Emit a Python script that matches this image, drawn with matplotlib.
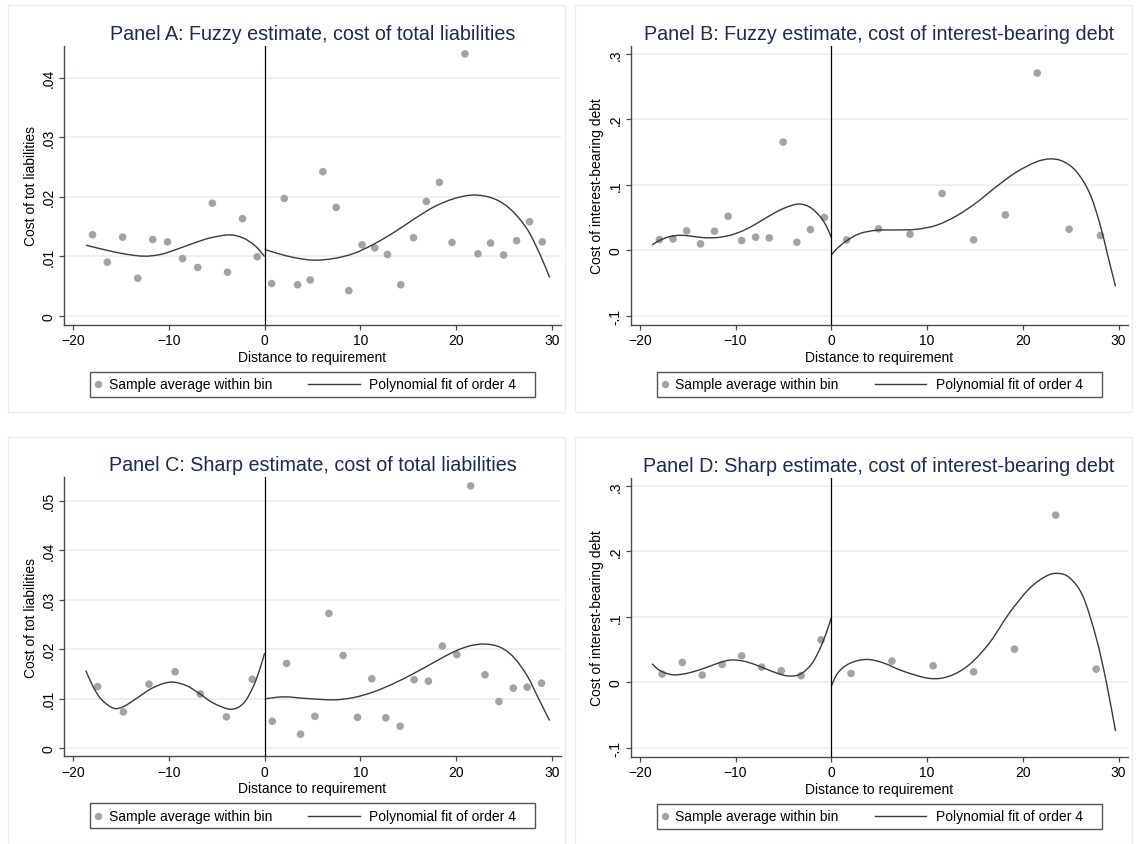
#!/usr/bin/env python3
"""Four RD panels (fuzzy / sharp, total liabilities / interest-bearing debt):
binned averages plus order-4 polynomial fits on each side of the cutoff.

Output: out.png
"""
import numpy as np
import matplotlib
matplotlib.use("Agg")
import matplotlib.pyplot as plt
from matplotlib.path import Path
from matplotlib.patches import PathPatch, Rectangle
from matplotlib.lines import Line2D
from matplotlib.offsetbox import AnchoredOffsetbox, DrawingArea, HPacker, TextArea

plt.rcParams["font.family"] = ["Liberation Sans", "DejaVu Sans"]

DOT, LINE, NAVY, GRID, AXC = "#a3a3a3", "#3a3a3a", "#1e2b4d", "#e9f0f1", "#4a4a4a"

XTICKS = [-20, -10, 0, 10, 20, 30]

# --- Panel A: fuzzy, cost of total liabilities ---
a_bin_x = [-17.97, -16.43, -14.83, -13.25, -11.68, -10.14, -8.57, -6.99, -5.45,
           -3.88, -2.31, -0.77, 0.73, 2.05, 3.44, 4.76, 6.08, 7.47, 8.79, 10.18,
           11.5, 12.83, 14.22, 15.54, 16.89, 18.25, 19.57, 20.92, 22.28, 23.6,
           24.96, 26.31, 27.67, 28.99]
a_bin_y = [.0136, .0090, .0132, .0063, .0128, .0124, .0096, .0081, .0189, .0073,
           .0163, .0099, .0054, .0197, .0052, .0060, .0242, .0182, .0042, .0119,
           .0114, .0103, .0052, .0131, .0192, .0224, .0123, .0440, .0104, .0122,
           .0102, .0126, .0158, .0124]
a_fitL_x = [-18.64, -16.66, -14.67, -12.65, -10.9, -9.16, -7.42, -5.68, -3.66, -2.2, -0.98, 0]
a_fitL_y = [.01184, .01106, .01039, .0100, .01028, .01117, .01218, .01307, .01358,
            .01302, .01173, .00994]
a_fitR_x = [0, 1.29, 3.03, 5.12, 7.21, 9.3, 11.39, 13.48, 15.57, 17.67, 19.76,
            21.85, 23.94, 25.68, 27.42, 28.82, 29.76]
a_fitR_y = [.01112, .0105, .00978, .00933, .00961, .01045, .01201, .01397, .0162,
            .01827, .01966, .02028, .01966, .01788, .01453, .01006, .00642]
a_yticks = [0, .01, .02, .03, .04]
a_ylabels = ["0", ".01", ".02", ".03", ".04"]

# --- Panel B: fuzzy, cost of interest-bearing debt ---
b_bin_x = [-17.95, -16.53, -15.11, -13.66, -12.2, -10.78, -9.36, -7.9, -6.48,
           -5.03, -3.6, -2.18, -0.73, 1.61, 4.93, 8.22, 11.57, 14.86, 18.18,
           21.5, 24.83, 28.11]
b_bin_y = [.0163, .0173, .0296, .0097, .0291, .052, .0148, .0199, .0189, .1653,
           .0122, .0316, .050, .0158, .0327, .0245, .0867, .0158, .0541, .2709,
           .0321, .0224]
b_fitL_x = [-18.72, -17.92, -16.88, -15.83, -14.79, -13.4, -12.0, -10.6, -9.22,
            -7.83, -6.44, -5.05, -3.48, -2.26, -1.22, -0.52, 0]
b_fitL_y = [.0081, .0152, .0208, .0228, .0218, .0193, .0193, .0228, .0299, .0406,
            .0528, .0635, .0706, .066, .0523, .037, .0193]
b_fitR_x = [0, 0.52, 1.57, 2.96, 4.7, 6.79, 8.88, 10.96, 13.05, 15.14, 17.22,
            19.31, 21.4, 22.86, 24.18, 25.57, 26.96, 28.01, 28.88, 29.68]
b_fitR_y = [-.0076, .0015, .0142, .0254, .0305, .031, .032, .0381, .0523, .0726,
            .097, .1193, .135, .1396, .136, .1208, .0878, .0421, -.0086, -.0553]
b_yticks = [-.1, 0, .1, .2, .3]
b_ylabels = ["-.1", "0", ".1", ".2", ".3"]

# --- Panel C: sharp, cost of total liabilities ---
c_bin_x = [-17.44, -14.75, -12.08, -9.35, -6.72, -3.99, -1.3, 0.8, 2.29, 3.75,
           5.25, 6.71, 8.2, 9.7, 11.19, 12.65, 14.15, 15.61, 17.1, 18.56, 20.06,
           21.52, 23.01, 24.47, 25.97, 27.42, 28.92]
c_bin_y = [.0124, .0073, .0129, .0154, .0109, .0063, .0139, .0054, .0171, .0028,
           .0064, .0272, .0187, .0062, .0140, .0061, .0044, .0138, .0135, .0206,
           .0189, .0530, .0148, .0094, .0121, .0123, .0131]
c_fitL_x = [-18.68, -17.87, -17.0, -15.78, -14.74, -13.34, -11.95, -10.56, -9.51,
            -8.12, -6.72, -5.33, -3.52, -2.2, -1.15, -0.45, 0]
c_fitL_y = [.01568, .01223, .00973, .00804, .00838, .01007, .01189, .01304, .01331,
            .01257, .01088, .00905, .00784, .00905, .01257, .01628, .01919]
c_fitR_x = [0, 1.99, 4.43, 7.21, 9.3, 11.39, 13.48, 15.57, 17.67, 19.76, 21.5,
            23.07, 24.63, 26.03, 27.42, 28.64, 29.76]
c_fitR_y = [.00993, .01034, .0100, .00973, .0102, .01135, .01304, .01507, .0173,
            .01946, .02068, .02101, .02034, .01831, .01459, .00986, .00554]
c_yticks = [0, .01, .02, .03, .04, .05]
c_ylabels = ["0", ".01", ".02", ".03", ".04", ".05"]

# --- Panel D: sharp, cost of interest-bearing debt ---
d_bin_x = [-17.68, -15.56, -13.48, -11.4, -9.36, -7.28, -5.23, -3.15, -1.07,
           2.06, 6.33, 10.63, 14.86, 19.13, 23.43, 27.66]
d_bin_y = [.0127, .0305, .0112, .0274, .0406, .0234, .0178, .0102, .065,
           .0137, .0325, .0254, .0162, .0508, .2553, .0203]
d_fitL_x = [-18.72, -17.92, -16.6, -15.14, -13.4, -12.0, -10.6, -9.22, -7.83,
            -6.44, -4.7, -3.3, -2.09, -1.22, -0.52, 0]
d_fitL_y = [.0285, .0183, .0117, .0137, .0209, .0285, .0341, .0326, .0265, .0183,
            .0102, .0122, .0275, .0504, .0758, .0987]
d_fitR_x = [0, 0.7, 1.91, 3.65, 5.39, 7.48, 10.26, 12.35, 14.44, 16.53, 18.62,
            20.7, 22.44, 23.66, 24.88, 26.27, 27.66, 28.7, 29.68]
d_fitR_y = [-.0056, .0148, .029, .0351, .030, .0173, .0061, .0097, .0275, .0606,
            .1064, .1435, .1623, .1664, .1598, .1318, .0682, .002, -.0743]
d_yticks = [-.1, 0, .1, .2, .3]
d_ylabels = ["-.1", "0", ".1", ".2", ".3"]

TITLES = ["Panel A: Fuzzy estimate, cost of total liabilities",
          "Panel B: Fuzzy estimate, cost of interest-bearing debt",
          "Panel C: Sharp estimate, cost of total liabilities",
          "Panel D: Sharp estimate, cost of interest-bearing debt"]
YLABELS = ["Cost of tot liabilities", "Cost of interest-bearing debt",
           "Cost of tot liabilities", "Cost of interest-bearing debt"]
LEGEND = ["Sample average within bin", "Polynomial fit of order 4"]
FS = 10


def smooth_path(x, y):
    """Bezier path through the read fit points (Catmull-Rom control points)."""
    px = np.r_[x[0], x, x[-1]]
    py = np.r_[y[0], y, y[-1]]
    verts, codes = [(x[0], y[0])], [Path.MOVETO]
    for i in range(1, len(px) - 2):
        c1 = (px[i] + (px[i + 1] - px[i - 1]) / 6, py[i] + (py[i + 1] - py[i - 1]) / 6)
        c2 = (px[i + 1] - (px[i + 2] - px[i]) / 6, py[i + 1] - (py[i + 2] - py[i]) / 6)
        verts += [c1, c2, (px[i + 1], py[i + 1])]
        codes += [Path.CURVE4] * 3
    return Path(verts, codes)


def stata_legend(ax):
    """Boxed one-row legend below the axes, Stata style (short marker key, long line key)."""
    h = 13
    mk = DrawingArea(7, h)
    mk.add_artist(Line2D([3.5], [h / 2], ls="none", marker="o", ms=5.3, color=DOT, mec="none"))
    ln = DrawingArea(37, h)
    ln.add_artist(Line2D([0, 37], [h / 2, h / 2], color=LINE, lw=1.0))
    txt = dict(fontsize=FS, color="black")
    row = HPacker(children=[mk, DrawingArea(4, h), TextArea(LEGEND[0], textprops=txt),
                            DrawingArea(26, h), ln, DrawingArea(7, h),
                            TextArea(LEGEND[1], textprops=txt), DrawingArea(11, h)],
                  sep=0, pad=0, align="center")
    box = AnchoredOffsetbox(loc="center", child=row, pad=0.25, borderpad=0,
                            frameon=True, bbox_to_anchor=(0.5, -0.214),
                            bbox_transform=ax.transAxes, prop=dict(size=FS))
    box.patch.set_edgecolor("#555555")
    box.patch.set_linewidth(1.0)
    ax.add_artist(box)


def main():
    fig = plt.figure(figsize=(11.37, 8.45), dpi=100)

    # faint outer boxes of each graph region
    for (x0, y0) in [(8, 6), (575, 6), (8, 438), (575, 438)]:
        fig.patches.append(Rectangle((x0 / 1137, 1 - (y0 + 407) / 845), 557 / 1137,
                                     407 / 845, transform=fig.transFigure,
                                     fill=False, edgecolor="#ececec", lw=1))

    rects = [[0.0563, 0.6146, 0.4371, 0.3302], [0.5547, 0.6146, 0.4371, 0.3302],
             [0.0563, 0.1038, 0.4371, 0.3302], [0.5547, 0.1033, 0.4371, 0.3302]]
    ylims = [(-0.00151, 0.04538), (-0.1138, 0.3128),
             (-0.00168, 0.05474), (-0.1134, 0.3125)]
    data = [(a_bin_x, a_bin_y, a_fitL_x, a_fitL_y, a_fitR_x, a_fitR_y, a_yticks, a_ylabels),
            (b_bin_x, b_bin_y, b_fitL_x, b_fitL_y, b_fitR_x, b_fitR_y, b_yticks, b_ylabels),
            (c_bin_x, c_bin_y, c_fitL_x, c_fitL_y, c_fitR_x, c_fitR_y, c_yticks, c_ylabels),
            (d_bin_x, d_bin_y, d_fitL_x, d_fitL_y, d_fitR_x, d_fitR_y, d_yticks, d_ylabels)]

    for k, (bx, by, lx, ly, rx, ry, yt, yl) in enumerate(data):
        ax = fig.add_axes(rects[k])
        ax.scatter(bx, by, s=30, color=DOT, edgecolors="none", zorder=3)
        for fx, fy in [(lx, ly), (rx, ry)]:
            ax.add_patch(PathPatch(smooth_path(np.array(fx), np.array(fy)),
                                   fill=False, edgecolor=LINE, lw=1.0, zorder=4))
        ax.axvline(0, color="black", lw=0.9, zorder=5)

        ax.set_xlim(-20.95, 30.95)
        ax.set_ylim(*ylims[k])
        ax.set_xticks(XTICKS)
        ax.set_yticks(yt)
        ax.set_yticklabels(yl, rotation=90, va="center")
        ax.yaxis.grid(True, color=GRID, lw=1.3)
        ax.set_axisbelow(True)
        for s in ["top", "right"]:
            ax.spines[s].set_visible(False)
        for s in ["left", "bottom"]:
            ax.spines[s].set_color(AXC)
            ax.spines[s].set_linewidth(1.0)
        ax.tick_params(direction="out", length=3.5, width=0.9, color=AXC,
                       labelsize=FS, pad=2.5)

        ax.set_title(TITLES[k], fontsize=14.2, color=NAVY, pad=5)
        ax.set_xlabel("Distance to requirement", fontsize=FS, labelpad=2)
        ax.set_ylabel(YLABELS[k], fontsize=FS, labelpad=3)
        stata_legend(ax)

    fig.savefig("out.png", dpi=100, facecolor="white")
    print("OK -> out.png")


if __name__ == "__main__":
    main()
